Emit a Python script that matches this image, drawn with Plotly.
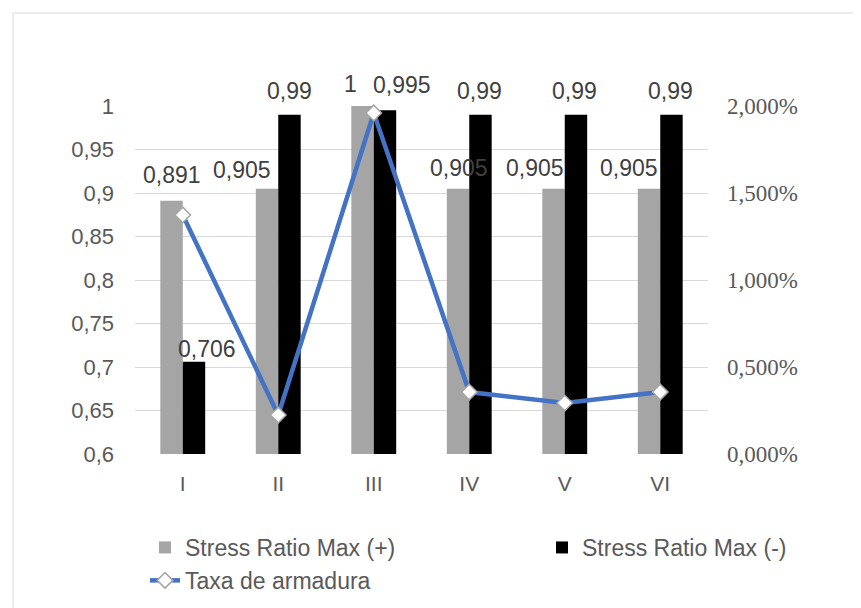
import plotly.graph_objects as go

# data
categories = ["I", "II", "III", "IV", "V", "VI"]
stress_pos = [0.891, 0.905, 1.0, 0.905, 0.905, 0.905]
stress_neg = [0.706, 0.99, 0.995, 0.99, 0.99, 0.99]
taxa = [0.01374, 0.00224, 0.0196, 0.00356, 0.00293, 0.00356]

left_ticks = [0.6, 0.65, 0.7, 0.75, 0.8, 0.85, 0.9, 0.95, 1.0]
left_tick_text = ["0,6", "0,65", "0,7", "0,75", "0,8", "0,85", "0,9", "0,95", "1"]
right_ticks = [0.0, 0.005, 0.01, 0.015, 0.02]

# layout in pixels (page has an 8px body margin, so screen = figure + 8)
W, H = 861, 608
OFF = 8
PLOT_X0, PLOT_X1 = 135 - OFF, 708 - OFF
PLOT_Y0, PLOT_Y1 = 106 - OFF, 454 - OFF
ML, MT = PLOT_X0, PLOT_Y0
MR, MB = W - PLOT_X1, H - PLOT_Y1
PW = PLOT_X1 - PLOT_X0
PH = PLOT_Y1 - PLOT_Y0
BARGAP = 0.53
CAT_PX = PW / len(categories)
BAR_OFF = CAT_PX * (1 - BARGAP) / 4

# Excel nudges its labels sideways to avoid collisions
pos_label_dx = [0, -25, -12, 1, -19, -20]
pos_label_dy = [27, 20, 23, 22, 22, 22]
neg_label_dx = [13, 0, 17, -1, -1, -1]
neg_label_dy = [14, 25, 26, 25, 25, 25]

SANS = "Liberation Sans, Arial, sans-serif"
SERIF = "Liberation Serif, Times New Roman, serif"
TXT = "#595959"


def px_x(screen_px):
    return (screen_px - OFF - PLOT_X0) / PW


def px_y(screen_px):
    return (PLOT_Y1 - (screen_px - OFF)) / PH


def fmt(v):
    return f"{v:g}".replace(".", ",")


fig = go.Figure()

fig.add_trace(go.Bar(
    x=categories, y=stress_pos, name="Stress Ratio Max (+)",
    marker=dict(color="#A5A5A5", line=dict(width=0)),
    legend="legend",
))
fig.add_trace(go.Bar(
    x=categories, y=stress_neg, name="Stress Ratio Max (-)",
    marker=dict(color="#000000", line=dict(width=0)),
    legend="legend2",
))
fig.add_trace(go.Scatter(
    x=categories, y=taxa, name="Taxa de armadura", yaxis="y2",
    mode="lines+markers",
    line=dict(color="#4472C4", width=4.5),
    marker=dict(symbol="diamond", size=12, color="white",
                line=dict(color="#A5A5A5", width=1.5)),
    cliponaxis=False,
    legend="legend",
))

annotations = []
for i, cat in enumerate(categories):
    annotations.append(dict(
        x=cat, y=stress_pos[i], xref="x", yref="y", text=fmt(stress_pos[i]),
        showarrow=False, yanchor="middle",
        xshift=-BAR_OFF + pos_label_dx[i], yshift=pos_label_dy[i] - 1,
        font=dict(family=SANS, size=23, color="#404040"),
    ))
    annotations.append(dict(
        x=cat, y=stress_neg[i], xref="x", yref="y", text=fmt(stress_neg[i]),
        showarrow=False, yanchor="middle",
        xshift=BAR_OFF + neg_label_dx[i], yshift=neg_label_dy[i] - 1,
        font=dict(family=SANS, size=23, color="#404040"),
    ))

fig.update_layout(
    width=W, height=H,
    margin=dict(l=ML, r=MR, t=MT, b=MB, autoexpand=False),
    paper_bgcolor="white", plot_bgcolor="white",
    separators=",.",
    barmode="group", bargap=BARGAP, bargroupgap=0,
    font=dict(family=SANS, size=22, color=TXT),
    xaxis=dict(
        showgrid=False, showline=False, ticks="",
        tickfont=dict(family=SANS, size=21, color=TXT),
        ticklabelstandoff=15,
    ),
    yaxis=dict(
        range=[0.6, 1.0], tickvals=left_ticks, ticktext=left_tick_text,
        showgrid=True, gridcolor="#D9D9D9", gridwidth=1,
        zeroline=False, showline=False, ticks="",
        tickfont=dict(family=SANS, size=22, color=TXT),
        ticklabelstandoff=20,
    ),
    yaxis2=dict(
        overlaying="y", side="right", range=[0, 0.02],
        tickvals=right_ticks, tickformat=".3%",
        showgrid=False, zeroline=False, showline=False, ticks="",
        tickfont=dict(family=SERIF, size=23, color=TXT),
        ticklabelstandoff=18,
    ),
    legend=dict(
        x=px_x(145), y=px_y(526), xanchor="left", yanchor="top",
        orientation="v", bgcolor="rgba(0,0,0,0)",
        font=dict(family=SANS, size=23, color=TXT),
        traceorder="normal",
    ),
    legend2=dict(
        x=px_x(542), y=px_y(526), xanchor="left", yanchor="top",
        orientation="v", bgcolor="rgba(0,0,0,0)",
        font=dict(family=SANS, size=23, color=TXT),
    ),
    annotations=annotations,
    shapes=[dict(
        type="rect", xref="paper", yref="paper",
        x0=px_x(13), x1=px_x(857), y0=px_y(640), y1=px_y(13),
        line=dict(color="#D9D9D9", width=1), fillcolor="rgba(0,0,0,0)",
        layer="below",
    )],
)

fig.write_html("out.html")
